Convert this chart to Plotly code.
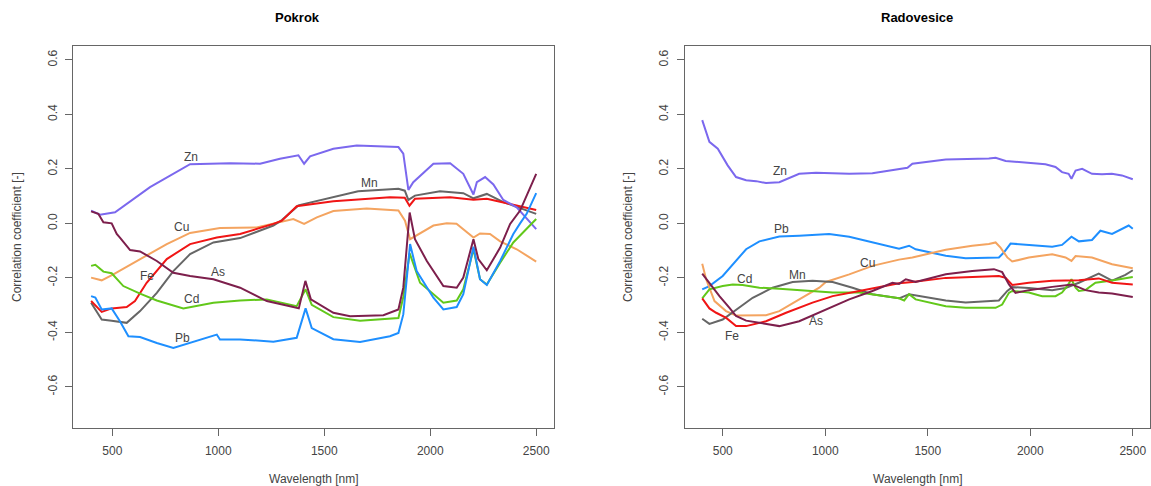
import plotly.graph_objects as go

# ---------------- Pokrok ----------------
pok_zn_wl = [400, 442, 513, 678, 867, 1056, 1197, 1291, 1378, 1405, 1433, 1543, 1653, 1700, 1850, 1873, 1897, 1920, 2015, 2094, 2156, 2204, 2220, 2259, 2298, 2345, 2408, 2500]
pok_zn = [0.047, 0.032, 0.041, 0.133, 0.217, 0.221, 0.219, 0.237, 0.250, 0.219, 0.246, 0.274, 0.286, 0.284, 0.280, 0.256, 0.123, 0.151, 0.219, 0.221, 0.182, 0.106, 0.151, 0.170, 0.143, 0.086, 0.059, -0.021]

pok_mn_wl = [400, 450, 497, 568, 631, 710, 788, 867, 977, 1103, 1260, 1300, 1378, 1575, 1660, 1850, 1880, 1897, 1928, 2046, 2156, 2204, 2267, 2345, 2500]
pok_mn = [-0.291, -0.353, -0.357, -0.365, -0.322, -0.255, -0.175, -0.113, -0.070, -0.054, -0.008, 0.012, 0.066, 0.102, 0.118, 0.127, 0.120, 0.086, 0.102, 0.118, 0.111, 0.092, 0.108, 0.078, 0.035]

pok_fe_wl = [400, 450, 497, 568, 607, 662, 757, 867, 993, 1103, 1260, 1300, 1370, 1386, 1543, 1810, 1880, 1902, 1928, 2094, 2204, 2267, 2361, 2500]
pok_fe = [-0.285, -0.325, -0.312, -0.307, -0.285, -0.218, -0.131, -0.076, -0.052, -0.039, -0.002, 0.010, 0.063, 0.065, 0.081, 0.096, 0.094, 0.065, 0.090, 0.096, 0.087, 0.090, 0.074, 0.049]

pok_cu_wl = [400, 450, 505, 631, 757, 867, 1008, 1181, 1354, 1405, 1465, 1543, 1700, 1850, 1881, 1905, 2015, 2078, 2124, 2204, 2235, 2282, 2330, 2408, 2500]
pok_cu = [-0.199, -0.209, -0.187, -0.131, -0.076, -0.035, -0.017, -0.015, 0.016, -0.002, 0.022, 0.045, 0.055, 0.047, 0.010, -0.058, -0.008, 0.000, -0.001, -0.052, -0.037, -0.039, -0.066, -0.095, -0.140]

pok_as_wl = [400, 434, 458, 497, 521, 536, 584, 631, 710, 788, 867, 977, 1103, 1229, 1354, 1380, 1411, 1437, 1543, 1622, 1779, 1850, 1873, 1897, 1903, 1928, 1984, 2062, 2125, 2156, 2204, 2227, 2267, 2330, 2377, 2424, 2500]
pok_as = [0.044, 0.035, 0.004, 0.000, -0.039, -0.052, -0.098, -0.103, -0.138, -0.181, -0.193, -0.205, -0.236, -0.285, -0.307, -0.312, -0.211, -0.279, -0.328, -0.341, -0.337, -0.316, -0.236, 0.010, 0.040, -0.058, -0.138, -0.230, -0.236, -0.199, -0.058, -0.131, -0.172, -0.089, -0.002, 0.047, 0.182]

pok_cd_wl = [400, 420, 458, 497, 552, 631, 710, 835, 977, 1103, 1229, 1370, 1412, 1441, 1543, 1669, 1850, 1873, 1903, 1952, 2062, 2125, 2156, 2204, 2235, 2267, 2330, 2392, 2455, 2500]
pok_cd = [-0.156, -0.152, -0.177, -0.183, -0.230, -0.258, -0.283, -0.312, -0.291, -0.283, -0.279, -0.304, -0.242, -0.299, -0.344, -0.357, -0.347, -0.270, -0.110, -0.218, -0.291, -0.283, -0.242, -0.095, -0.205, -0.224, -0.144, -0.070, -0.020, 0.016]

pok_pb_wl = [400, 420, 450, 497, 536, 576, 631, 710, 788, 867, 993, 1008, 1103, 1260, 1370, 1412, 1441, 1543, 1669, 1810, 1850, 1873, 1905, 1936, 2015, 2062, 2125, 2156, 2204, 2235, 2267, 2330, 2392, 2424, 2455, 2500]
pok_pb = [-0.267, -0.272, -0.316, -0.312, -0.359, -0.414, -0.417, -0.439, -0.457, -0.439, -0.408, -0.426, -0.426, -0.434, -0.420, -0.312, -0.384, -0.425, -0.435, -0.414, -0.402, -0.334, -0.076, -0.175, -0.273, -0.316, -0.307, -0.260, -0.086, -0.205, -0.226, -0.138, -0.039, 0.000, 0.035, 0.111]

# ---------------- Radovesice ----------------
rad_zn_wl = [400, 435, 476, 524, 565, 614, 663, 711, 776, 873, 955, 1117, 1230, 1360, 1401, 1425, 1588, 1798, 1831, 1880, 1944, 2074, 2123, 2155, 2187, 2201, 2221, 2253, 2301, 2350, 2398, 2447, 2500]
rad_zn = [0.379, 0.299, 0.274, 0.213, 0.170, 0.158, 0.155, 0.148, 0.151, 0.182, 0.186, 0.182, 0.184, 0.201, 0.204, 0.219, 0.234, 0.238, 0.241, 0.229, 0.225, 0.217, 0.207, 0.188, 0.182, 0.164, 0.194, 0.200, 0.182, 0.180, 0.182, 0.176, 0.162]

rad_pb_wl = [400, 435, 500, 549, 614, 679, 776, 873, 1019, 1117, 1230, 1360, 1409, 1441, 1588, 1685, 1847, 1871, 1904, 1993, 2107, 2155, 2201, 2237, 2301, 2342, 2399, 2480, 2500]
rad_pb = [-0.242, -0.230, -0.193, -0.150, -0.095, -0.066, -0.048, -0.045, -0.039, -0.049, -0.070, -0.093, -0.082, -0.095, -0.119, -0.128, -0.125, -0.107, -0.074, -0.079, -0.086, -0.079, -0.049, -0.066, -0.061, -0.027, -0.039, -0.008, -0.020]

rad_cu_wl = [400, 419, 460, 516, 565, 614, 711, 776, 873, 971, 1003, 1117, 1230, 1360, 1425, 1588, 1717, 1798, 1831, 1855, 1888, 1912, 1993, 2107, 2172, 2201, 2221, 2301, 2399, 2500]
rad_cu = [-0.148, -0.205, -0.285, -0.322, -0.338, -0.338, -0.337, -0.322, -0.279, -0.236, -0.215, -0.187, -0.156, -0.133, -0.125, -0.097, -0.082, -0.076, -0.070, -0.089, -0.125, -0.140, -0.125, -0.113, -0.125, -0.138, -0.120, -0.125, -0.150, -0.165]

rad_mn_wl = [400, 435, 500, 581, 646, 743, 841, 938, 1036, 1133, 1230, 1360, 1409, 1588, 1685, 1847, 1888, 1912, 1993, 2107, 2172, 2237, 2334, 2399, 2464, 2500]
rad_mn = [-0.350, -0.369, -0.353, -0.310, -0.273, -0.236, -0.215, -0.211, -0.215, -0.236, -0.260, -0.275, -0.260, -0.283, -0.290, -0.283, -0.248, -0.234, -0.237, -0.245, -0.237, -0.218, -0.184, -0.210, -0.189, -0.172]

rad_fe_wl = [400, 435, 468, 517, 565, 614, 711, 809, 938, 1036, 1166, 1296, 1360, 1425, 1588, 1847, 1880, 1912, 1993, 2107, 2237, 2334, 2399, 2500]
rad_fe = [-0.275, -0.312, -0.328, -0.347, -0.377, -0.377, -0.359, -0.328, -0.291, -0.267, -0.248, -0.230, -0.220, -0.215, -0.200, -0.193, -0.200, -0.226, -0.218, -0.211, -0.209, -0.202, -0.218, -0.224]

rad_as_wl = [400, 435, 484, 533, 565, 614, 711, 776, 873, 1003, 1117, 1230, 1328, 1360, 1393, 1441, 1588, 1717, 1823, 1863, 1896, 1928, 1993, 2107, 2204, 2269, 2334, 2399, 2500]
rad_as = [-0.184, -0.218, -0.267, -0.310, -0.340, -0.357, -0.369, -0.377, -0.359, -0.316, -0.279, -0.248, -0.218, -0.222, -0.205, -0.215, -0.187, -0.175, -0.168, -0.179, -0.224, -0.255, -0.245, -0.233, -0.224, -0.245, -0.254, -0.257, -0.270]

rad_cd_wl = [400, 435, 500, 549, 597, 679, 776, 906, 1036, 1166, 1296, 1360, 1385, 1409, 1441, 1588, 1685, 1831, 1863, 1896, 1912, 1993, 2058, 2123, 2155, 2180, 2201, 2221, 2237, 2269, 2318, 2399, 2500]
rad_cd = [-0.275, -0.242, -0.230, -0.224, -0.226, -0.236, -0.240, -0.248, -0.254, -0.254, -0.267, -0.275, -0.283, -0.260, -0.279, -0.304, -0.310, -0.310, -0.298, -0.255, -0.248, -0.254, -0.267, -0.267, -0.254, -0.230, -0.205, -0.236, -0.248, -0.245, -0.218, -0.210, -0.197]

# element labels (text, wavelength, value)
pok_label_names = ["Zn", "Mn", "Cu", "Fe", "As", "Cd", "Pb"]
pok_label_wl = [870, 1713, 828, 662, 1000, 875, 832]
pok_label_val = [0.245, 0.148, -0.015, -0.193, -0.177, -0.279, -0.420]

rad_label_names = ["Zn", "Pb", "Cu", "Mn", "Cd", "As", "Fe"]
rad_label_wl = [779, 789, 1206, 865, 606, -0 + 955, 544]
rad_label_val = [0.191, -0.022, -0.146, -0.189, -0.205, -0.359, -0.412]

y_ticks = [-0.6, -0.4, -0.2, 0.0, 0.2, 0.4, 0.6]
y_tick_text = ["-0.6", "-0.4", "-0.2", "0.0", "0.2", "0.4", "0.6"]
x_ticks = [500, 1000, 1500, 2000, 2500]

colors = {
    "Zn": "#7b68ee",
    "Mn": "#666666",
    "Fe": "#f01515",
    "Cu": "#f4a460",
    "As": "#7d1f4c",
    "Cd": "#62c81a",
    "Pb": "#1e8fff",
}

pok_series = [
    ("Cu", pok_cu_wl, pok_cu), ("Mn", pok_mn_wl, pok_mn), ("Fe", pok_fe_wl, pok_fe),
    ("Zn", pok_zn_wl, pok_zn), ("Cd", pok_cd_wl, pok_cd), ("Pb", pok_pb_wl, pok_pb),
    ("As", pok_as_wl, pok_as),
]
rad_series = [
    ("Zn", rad_zn_wl, rad_zn), ("Pb", rad_pb_wl, rad_pb), ("Cu", rad_cu_wl, rad_cu),
    ("Mn", rad_mn_wl, rad_mn), ("Cd", rad_cd_wl, rad_cd), ("Fe", rad_fe_wl, rad_fe),
    ("As", rad_as_wl, rad_as),
]

fig = go.Figure()
for name, wl, val in pok_series:
    fig.add_trace(go.Scatter(x=wl, y=val, mode="lines", name=name,
                             line=dict(color=colors[name], width=2),
                             xaxis="x", yaxis="y", showlegend=False))
for name, wl, val in rad_series:
    fig.add_trace(go.Scatter(x=wl, y=val, mode="lines", name=name,
                             line=dict(color=colors[name], width=2),
                             xaxis="x2", yaxis="y2", showlegend=False))

FONT = "Liberation Sans, Arial, sans-serif"
W, H = 1151, 486
TICKCOL = "#444444"
FRAME = "#666666"

def xaxis_def(domain):
    return dict(domain=domain, range=[316, 2584], tickvals=x_ticks,
                showline=True, mirror=True, linecolor=FRAME, linewidth=1,
                ticks="outside", ticklen=7, tickcolor=FRAME, tickwidth=1,
                showgrid=False, zeroline=False,
                tickfont=dict(family=FONT, size=12, color=TICKCOL),
                ticklabelstandoff=4)

def yaxis_def(domain):
    return dict(domain=domain, range=[-0.752, 0.652], tickvals=y_ticks,
                ticktext=y_tick_text, tickangle=-90,
                showline=True, mirror=True, linecolor=FRAME, linewidth=1,
                ticks="outside", ticklen=7, tickcolor=FRAME, tickwidth=1,
                showgrid=False, zeroline=False,
                tickfont=dict(family=FONT, size=12, color=TICKCOL),
                ticklabelstandoff=4)

ydom = [(H - 428.3) / H, (H - 45.7) / H]
fig.update_layout(
    width=W, height=H,
    margin=dict(l=0, r=0, t=0, b=0),
    paper_bgcolor="white", plot_bgcolor="white",
    xaxis=xaxis_def([73.3 / W, 554 / W]),
    yaxis=yaxis_def(ydom),
    xaxis2=dict(xaxis_def([685 / W, 1150 / W]), anchor="y2"),
    yaxis2=dict(yaxis_def(ydom), anchor="x2"),
)
fig.layout.xaxis.anchor = "y"
fig.layout.yaxis.anchor = "x"

annotations = []
for n, w, v in zip(pok_label_names, pok_label_wl, pok_label_val):
    annotations.append(dict(x=w, y=v, xref="x", yref="y", text=n, showarrow=False,
                            font=dict(family=FONT, size=12, color="#444444")))
for n, w, v in zip(rad_label_names, rad_label_wl, rad_label_val):
    annotations.append(dict(x=w, y=v, xref="x2", yref="y2", text=n, showarrow=False,
                            font=dict(family=FONT, size=12, color="#444444")))

# titles
annotations.append(dict(x=298 / W, y=1 - 17 / H, xref="paper", yref="paper", text="<b>Pokrok</b>",
                        showarrow=False, xanchor="center", yanchor="middle",
                        font=dict(family=FONT, size=13, color="black")))
annotations.append(dict(x=917 / W, y=1 - 17 / H, xref="paper", yref="paper", text="<b>Radovesice</b>",
                        showarrow=False, xanchor="center", yanchor="middle",
                        font=dict(family=FONT, size=13, color="black")))
# axis titles
for cx in [313.7, 918]:
    annotations.append(dict(x=cx / W, y=1 - 479 / H, xref="paper", yref="paper", text="Wavelength [nm]",
                            showarrow=False, xanchor="center", yanchor="middle",
                            font=dict(family=FONT, size=12, color="#444444")))
for cx in [17, 628]:
    annotations.append(dict(x=cx / W, y=1 - 237 / H, xref="paper", yref="paper",
                            text="Correlation coefficient [-]", textangle=-90,
                            showarrow=False, xanchor="center", yanchor="middle",
                            font=dict(family=FONT, size=12, color="#444444")))
fig.update_layout(annotations=annotations)

fig.write_html("out.html")
